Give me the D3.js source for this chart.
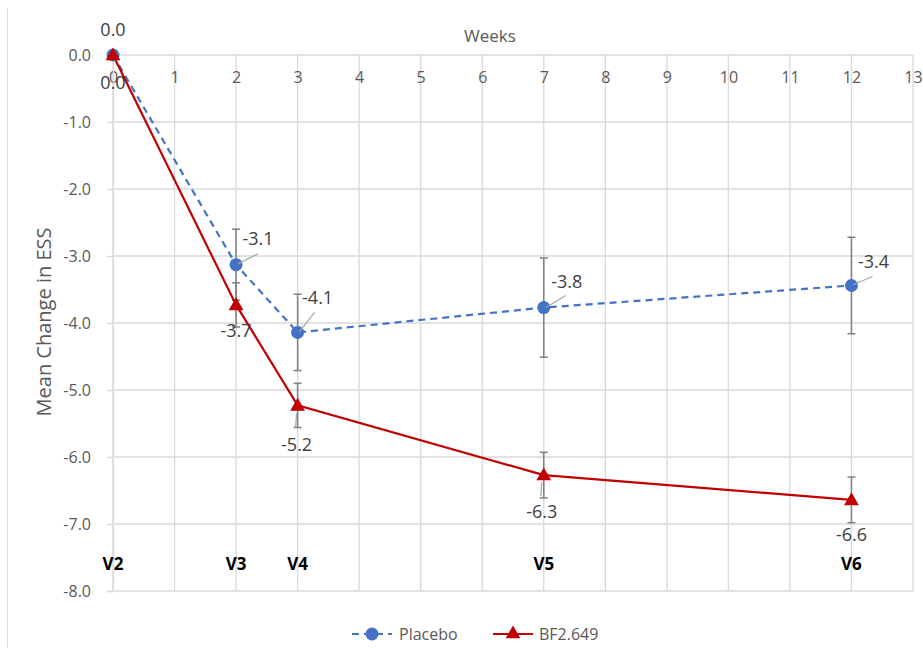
<!DOCTYPE html>
<html>
<head>
<meta charset="utf-8">
<script src="https://cdn.jsdelivr.net/npm/d3@7"></script>
<style>
  body { margin: 0; background: #fff; }
  svg text { font-family: "Open Sans", "Noto Sans", sans-serif; }
</style>
</head>
<body>
<div id="vis"></div>
<script>
// data
const weeks = [0, 2, 3, 7, 12];
const visits = ["V2", "V3", "V4", "V5", "V6"];
const placebo = [0, -3.13, -4.14, -3.77, -3.44];
const placeboErr = [0, 0.53, 0.57, 0.74, 0.72];
const bf = [0, -3.73, -5.23, -6.27, -6.64];
const bfErr = [0, 0.33, 0.33, 0.34, 0.34];
const xTicks = d3.range(0, 14);
const yTicks = [0, -1, -2, -3, -4, -5, -6, -7, -8];

const W = 923, H = 648;
const margin = { top: 55, right: 10, bottom: 57, left: 113 };

// excel style: plain hyphen for negatives
const fmt1 = v => d3.format(".1f")(v).replace("\u2212", "-");

const svg = d3.select("#vis").append("svg")
  .attr("width", W)
  .attr("height", H);

const x = d3.scaleLinear().domain([0, 13]).range([margin.left, W - margin.right]);
const y = d3.scaleLinear().domain([0, -8]).range([margin.top, H - margin.bottom]);

// outer frame line on the left
svg.append("line")
  .attr("x1", 7.5).attr("x2", 7.5)
  .attr("y1", 8).attr("y2", H)
  .attr("stroke", "#d9d9d9");

// gridlines
svg.append("g").selectAll("line")
  .data(yTicks)
  .join("line")
  .attr("x1", x(0)).attr("x2", x(13))
  .attr("y1", d => y(d)).attr("y2", d => y(d))
  .attr("stroke", "#d9d9d9").attr("stroke-width", 1.3);

svg.append("g").selectAll("line")
  .data(xTicks)
  .join("line")
  .attr("x1", d => x(d)).attr("x2", d => x(d))
  .attr("y1", y(0)).attr("y2", y(-8))
  .attr("stroke", "#d9d9d9").attr("stroke-width", 1.3);

// x axis (top)
const xAxis = svg.append("g")
  .attr("transform", `translate(0,${y(0)})`)
  .call(d3.axisBottom(x).tickValues(xTicks).tickSize(0).tickPadding(17).tickFormat(d3.format("d")));
xAxis.select(".domain").remove();
xAxis.selectAll("text").attr("fill", "#595959").style("font-size", "16px");

// y axis
const yAxis = svg.append("g")
  .attr("transform", `translate(${x(0)},0)`)
  .call(d3.axisLeft(y).tickValues(yTicks).tickSize(6).tickPadding(16).tickFormat(fmt1));
yAxis.select(".domain").attr("stroke", "#d9d9d9").attr("stroke-width", 1.3);
yAxis.selectAll(".tick line").attr("stroke", "#d9d9d9").attr("stroke-width", 1.3);
yAxis.selectAll("text").attr("fill", "#595959").style("font-size", "16px");

// axis titles
svg.append("text")
  .attr("x", 490).attr("y", 42)
  .attr("text-anchor", "middle")
  .attr("fill", "#595959")
  .style("font-size", "17px")
  .text("Weeks");

svg.append("text")
  .attr("transform", "translate(51,322) rotate(-90)")
  .attr("text-anchor", "middle")
  .attr("fill", "#595959")
  .style("font-size", "20px")
  .text("Mean Change in ESS");

// visit labels
svg.append("g").selectAll("text")
  .data(weeks)
  .join("text")
  .attr("x", d => x(d))
  .attr("y", y(-7.6))
  .attr("dy", "0.35em")
  .attr("text-anchor", "middle")
  .attr("fill", "#000")
  .style("font-size", "17px")
  .style("font-weight", "bold")
  .text((d, i) => visits[i]);

// error bars
function errorBars(vals, errs) {
  const g = svg.append("g").attr("stroke", "#7f7f7f").attr("stroke-width", 1.5);
  weeks.forEach((w, i) => {
    if (errs[i] === 0) return;
    const cx = x(w), y1 = y(vals[i] + errs[i]), y2 = y(vals[i] - errs[i]);
    g.append("line").attr("x1", cx).attr("x2", cx).attr("y1", y1).attr("y2", y2);
    g.append("line").attr("x1", cx - 4).attr("x2", cx + 4).attr("y1", y1).attr("y2", y1);
    g.append("line").attr("x1", cx - 4).attr("x2", cx + 4).attr("y1", y2).attr("y2", y2);
  });
}
errorBars(placebo, placeboErr);
errorBars(bf, bfErr);

const line = d3.line().x((d, i) => x(weeks[i])).y(d => y(d));

// lines
svg.append("path")
  .datum(placebo)
  .attr("d", line)
  .attr("fill", "none")
  .attr("stroke", "#4472c4")
  .attr("stroke-width", 2.2)
  .attr("stroke-dasharray", "7,5");

svg.append("path")
  .datum(bf)
  .attr("d", line)
  .attr("fill", "none")
  .attr("stroke", "#c00000")
  .attr("stroke-width", 2.2);

// markers
svg.append("g").selectAll("circle")
  .data(placebo)
  .join("circle")
  .attr("cx", (d, i) => x(weeks[i]))
  .attr("cy", d => y(d))
  .attr("r", 6.5)
  .attr("fill", "#4472c4");

const tri = d3.symbol().type(d3.symbolTriangle).size(95);
svg.append("g").selectAll("path")
  .data(bf)
  .join("path")
  .attr("d", tri)
  .attr("transform", (d, i) => `translate(${x(weeks[i])},${y(d) + 1})`)
  .attr("fill", "#c00000");

// data labels with leader lines
const placeboLabelOffset = [[0, -25], [22, -26], [20, -35], [23, -26], [22, -24]];
const bfLabelOffset = [[0, 28], [0, 26], [-1, 39], [-2, 37], [0, 35]];

function labels(vals, offsets, leaders) {
  const g = svg.append("g");
  weeks.forEach((w, i) => {
    const px = x(w), py = y(vals[i]);
    const lx = px + offsets[i][0], ly = py + offsets[i][1];
    if (leaders && leaders[i]) {
      const l = leaders[i];
      g.append("line")
        .attr("x1", px + l[0]).attr("y1", py + l[1])
        .attr("x2", px + l[2]).attr("y2", py + l[3])
        .attr("stroke", "#a6a6a6").attr("stroke-width", 1.2);
    }
    g.append("text")
      .attr("x", lx).attr("y", ly)
      .attr("dy", "0.35em")
      .attr("text-anchor", "middle")
      .attr("fill", "#404040")
      .style("font-size", "18px")
      .text(fmt1(vals[i]));
  });
}
labels(placebo, placeboLabelOffset,
  [null, [2, -1, 22, -11], [2, -1, 17, -20], [2, 0, 22, -12], [2, -1, 21, -9]]);
labels(bf, bfLabelOffset,
  [null, null, [-1, 8, -2, 22], [-2, 7, -3, 21], null]);

// legend
const leg = svg.append("g").attr("transform", "translate(0,634)");
leg.append("line")
  .attr("x1", 352).attr("x2", 392).attr("y1", 0).attr("y2", 0)
  .attr("stroke", "#4472c4").attr("stroke-width", 2.2).attr("stroke-dasharray", "7,5");
leg.append("circle").attr("cx", 372).attr("cy", 0).attr("r", 6.5).attr("fill", "#4472c4");
leg.append("text").attr("x", 399).attr("y", 0).attr("dy", "0.35em")
  .attr("fill", "#595959").style("font-size", "16px").text("Placebo");
leg.append("line")
  .attr("x1", 493).attr("x2", 533).attr("y1", 0).attr("y2", 0)
  .attr("stroke", "#c00000").attr("stroke-width", 2.2);
leg.append("path").attr("d", tri).attr("transform", "translate(513,0)").attr("fill", "#c00000");
leg.append("text").attr("x", 539).attr("y", 0).attr("dy", "0.35em")
  .attr("fill", "#595959").style("font-size", "16px").text("BF2.649");
</script>
</body>
</html>
